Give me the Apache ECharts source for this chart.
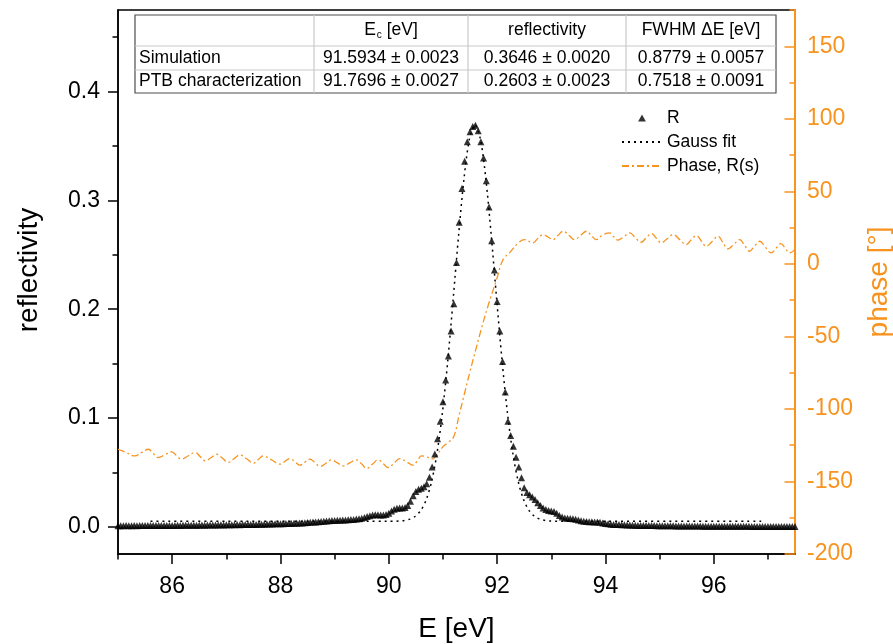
<!DOCTYPE html>
<html><head><meta charset="utf-8">
<script src="https://cdn.jsdelivr.net/npm/echarts@6/dist/echarts.min.js"></script>
<style>html,body{margin:0;padding:0;background:#fff}#c{width:893px;height:644px}</style>
</head><body><div id="c"></div>
<script>
// ---- data ----
const energyR = [
85.00,85.05,85.10,85.15,85.20,85.25,85.30,85.35,85.40,85.45,
85.50,85.55,85.60,85.65,85.70,85.75,85.80,85.85,85.90,85.95,
86.00,86.05,86.10,86.15,86.20,86.25,86.30,86.35,86.40,86.45,
86.50,86.55,86.60,86.65,86.70,86.75,86.80,86.85,86.90,86.95,
87.00,87.05,87.10,87.15,87.20,87.25,87.30,87.35,87.40,87.45,
87.50,87.55,87.60,87.65,87.70,87.75,87.80,87.85,87.90,87.95,
88.00,88.05,88.10,88.15,88.20,88.25,88.30,88.35,88.40,88.45,
88.50,88.55,88.60,88.65,88.70,88.75,88.80,88.85,88.90,88.95,
89.00,89.05,89.10,89.15,89.20,89.25,89.30,89.35,89.40,89.45,
89.50,89.55,89.60,89.65,89.70,89.75,89.80,89.85,89.90,89.95,
90.00,90.05,90.10,90.15,90.20,90.25,90.30,90.35,90.40,90.45,
90.50,90.55,90.60,90.65,90.70,90.75,90.80,90.85,90.90,90.95,
91.00,91.05,91.10,91.15,91.20,91.25,91.30,91.35,91.40,91.45,
91.50,91.55,91.60,91.65,91.70,91.75,91.80,91.85,91.90,91.95,
92.00,92.05,92.10,92.15,92.20,92.25,92.30,92.35,92.40,92.45,
92.50,92.55,92.60,92.65,92.70,92.75,92.80,92.85,92.90,92.95,
93.00,93.05,93.10,93.15,93.20,93.25,93.30,93.35,93.40,93.45,
93.50,93.55,93.60,93.65,93.70,93.75,93.80,93.85,93.90,93.95,
94.00,94.05,94.10,94.15,94.20,94.25,94.30,94.35,94.40,94.45,
94.50,94.55,94.60,94.65,94.70,94.75,94.80,94.85,94.90,94.95,
95.00,95.05,95.10,95.15,95.20,95.25,95.30,95.35,95.40,95.45,
95.50,95.55,95.60,95.65,95.70,95.75,95.80,95.85,95.90,95.95,
96.00,96.05,96.10,96.15,96.20,96.25,96.30,96.35,96.40,96.45,
96.50,96.55,96.60,96.65,96.70,96.75,96.80,96.85,96.90,96.95,
97.00,97.05,97.10,97.15,97.20,97.25,97.30,97.35,97.40,97.45,
97.50];
const reflectivityR = [
0.0010,0.0009,0.0010,0.0011,0.0010,0.0010,0.0011,0.0010,0.0011,0.0011,
0.0011,0.0012,0.0011,0.0012,0.0012,0.0012,0.0013,0.0012,0.0013,0.0013,
0.0013,0.0013,0.0014,0.0013,0.0014,0.0014,0.0015,0.0014,0.0015,0.0015,
0.0015,0.0016,0.0015,0.0016,0.0017,0.0016,0.0017,0.0017,0.0018,0.0017,
0.0018,0.0018,0.0019,0.0019,0.0020,0.0019,0.0020,0.0021,0.0020,0.0021,
0.0022,0.0022,0.0023,0.0023,0.0024,0.0025,0.0025,0.0026,0.0027,0.0027,
0.0028,0.0029,0.0030,0.0031,0.0031,0.0032,0.0033,0.0034,0.0035,0.0037,
0.0039,0.0041,0.0043,0.0045,0.0047,0.0049,0.0051,0.0053,0.0055,0.0057,
0.0059,0.0060,0.0061,0.0062,0.0063,0.0064,0.0066,0.0068,0.0071,0.0074,
0.0078,0.0085,0.0095,0.0102,0.0108,0.0110,0.0110,0.0108,0.0108,0.0112,
0.0125,0.0145,0.0162,0.0170,0.0172,0.0172,0.0178,0.0195,0.0235,0.0285,
0.0325,0.0345,0.0355,0.0368,0.0395,0.0455,0.0550,0.0670,0.0810,0.0970,
0.115,0.135,0.157,0.180,0.205,0.243,0.280,0.311,0.336,0.354,
0.363,0.368,0.369,0.364,0.354,0.339,0.318,0.294,0.263,0.236,
0.207,0.180,0.152,0.124,0.097,0.084,0.074,0.064,0.055,0.045,
0.0360,0.0315,0.0295,0.0275,0.0250,0.0220,0.0195,0.0172,0.0158,0.0150,
0.0145,0.0140,0.0125,0.0105,0.0090,0.0082,0.0078,0.0077,0.0074,0.0069,
0.0063,0.0056,0.0051,0.0048,0.0047,0.0046,0.0045,0.0044,0.0041,0.0036,
0.0031,0.0027,0.0024,0.0022,0.0021,0.0020,0.0019,0.0018,0.0017,0.0016,
0.0015,0.0014,0.0013,0.0013,0.0012,0.0012,0.0011,0.0011,0.0011,0.0010,
0.0010,0.0010,0.0009,0.0009,0.0009,0.0009,0.0008,0.0008,0.0008,0.0008,
0.0008,0.0007,0.0007,0.0007,0.0007,0.0007,0.0006,0.0006,0.0006,0.0006,
0.0006,0.0006,0.0005,0.0005,0.0005,0.0005,0.0005,0.0005,0.0004,0.0004,
0.0004,0.0004,0.0004,0.0004,0.0003,0.0003,0.0003,0.0003,0.0003,0.0003,
0.0003,0.0003,0.0002,0.0002,0.0002,0.0002,0.0002,0.0002,0.0002,0.0002,
0.0002];

const gaussE = [85.60,89.99,90.09,90.19,90.29,90.39,90.49,90.59,90.69,90.79,90.89,90.99,91.09,91.19,91.29,91.39,91.49,91.59,
  91.69,91.79,91.89,91.99,92.09,92.19,92.29,92.39,92.49,92.59,92.69,92.79,92.89,92.99,93.09,93.19,96.90];
const gaussR = [0.0050,0.0051,0.0051,0.0053,0.0058,0.0071,0.0097,0.0150,0.0248,0.0415,0.0676,0.1049,0.1533,0.2101,0.2687,0.3207,0.3567,0.3696,
  0.3567,0.3207,0.2687,0.2101,0.1533,0.1049,0.0676,0.0415,0.0248,0.0150,0.0097,0.0071,0.0058,0.0053,0.0051,0.0050,0.0050];

const phaseE = [85.00,85.15,85.31,85.44,85.56,85.65,85.74,85.87,85.99,86.08,86.17,86.30,86.42,86.52,86.61,86.72,86.82,86.93,87.03,87.14,
  87.25,87.38,87.50,87.59,87.68,87.84,87.99,88.08,88.17,88.27,88.36,88.45,88.54,88.64,88.73,88.84,88.94,89.05,89.16,89.28,
  89.40,89.50,89.59,89.70,89.80,89.90,89.99,90.10,90.20,90.33,90.45,90.53,90.60,90.70,90.79,90.90,91.00,91.10,91.20,91.30,
  91.40,91.50,91.60,91.70,91.83,91.99,92.11,92.23,92.39,92.51,92.66,92.75,92.85,92.94,93.03,93.12,93.22,93.33,93.43,93.54,
  93.65,93.74,93.83,93.95,94.08,94.15,94.23,94.34,94.45,94.55,94.66,94.75,94.85,94.94,95.03,95.14,95.25,95.37,95.49,95.58,
  95.68,95.77,95.86,95.97,96.08,96.17,96.26,96.37,96.48,96.57,96.66,96.75,96.85,96.95,97.06,97.15,97.24,97.32,97.40,97.50];
const phaseDeg = [-127.8,-130.0,-132.4,-130.0,-127.8,-130.8,-133.5,-131.5,-129.6,-132.1,-134.6,-132.3,-130.0,-132.9,-135.8,-133.5,-131.2,-134.0,-136.9,-134.3,
  -131.7,-134.5,-137.4,-134.9,-132.4,-135.2,-138.1,-136.2,-134.2,-136.5,-138.8,-136.7,-134.6,-137.1,-139.7,-137.4,-135.1,-137.2,-139.3,-137.2,
  -135.1,-138.0,-141.0,-138.0,-135.1,-137.8,-140.4,-137.3,-134.2,-136.5,-138.8,-135.6,-132.4,-133.0,-134.6,-131.0,-126.0,-123.0,-119.0,-104.0,
  -89.0,-74.0,-60.0,-46.0,-29.2,-10.8,3.0,7.6,14.5,16.7,14.5,17.5,20.2,18.5,16.7,19.5,22.5,19.5,16.7,19.6,
  22.5,19.5,16.7,20.0,21.3,18.8,16.3,18.8,21.3,18.1,14.9,17.9,20.9,17.7,14.5,17.3,20.2,16.8,13.3,16.4,
  19.5,15.8,12.1,15.5,19.0,14.6,10.3,13.5,16.7,12.7,8.7,12.1,15.6,11.6,7.6,10.8,14.0,10.8,7.6,10.0];

const xMajorTicks = [86,88,90,92,94,96];
const xMinorTicks = [85,87,89,91,93,95,97];
const yLeftMajor = [0,0.1,0.2,0.3,0.4];
const yLeftMinor = [0.05,0.15,0.25,0.35,0.45];
const yRightMajor = [-200,-150,-100,-50,0,50,100,150];
const yRightMinor = [-175,-125,-75,-25,25,75,125,175];

const tableHeader = ['', 'E|c| [eV]', 'reflectivity', 'FWHM ΔE [eV]'];
const tableRows = [
  ['Simulation', '91.5934 ± 0.0023', '0.3646 ± 0.0020', '0.8779 ± 0.0057'],
  ['PTB characterization', '91.7696 ± 0.0027', '0.2603 ± 0.0023', '0.7518 ± 0.0091']
];
const legendNames = ['R', 'Gauss fit', 'Phase, R(s)'];

// ---- styling / layout ----
const FONT = 'Liberation Sans, Arial, sans-serif';
const ORANGE = '#F7931E';
const zip = (a, b) => a.map((v, i) => [v, b[i]]);

// table geometry
const colX = [135, 314, 468, 626, 776];
const rowY = [15, 46, 70, 93];
const TFS = 17.5;
const tableEls = [];
tableEls.push({type:'rect', shape:{x:colX[0], y:rowY[0], width:colX[4]-colX[0], height:rowY[3]-rowY[0]},
  style:{fill:'#fff', stroke:'#4d4d4d', lineWidth:1.2}, z:100});
for (let i = 1; i < colX.length - 1; i++) {
  tableEls.push({type:'line', shape:{x1:colX[i], y1:rowY[0], x2:colX[i], y2:rowY[3]}, style:{stroke:'#c9c9c9', lineWidth:1.2}, z:101});
}
for (let j = 1; j < rowY.length - 1; j++) {
  tableEls.push({type:'line', shape:{x1:colX[0], y1:rowY[j], x2:colX[4], y2:rowY[j]}, style:{stroke:'#c9c9c9', lineWidth:1.2}, z:101});
}
function cellText(txt, col, row) {
  const cy = (rowY[row] + rowY[row+1]) / 2;
  const isLabel = col === 0;
  const cx = isLabel ? colX[0] + 4 : (colX[col] + colX[col+1]) / 2;
  const style = {x:cx, y:cy, text:txt, fontSize:TFS, fontFamily:FONT, fill:'#000',
    align: isLabel ? 'left' : 'center', verticalAlign:'middle'};
  if (txt.indexOf('|') >= 0) {
    const p = txt.split('|');
    style.text = '{a|' + p[0] + '}{s|' + p[1] + '}{a|' + p[2] + '}';
    style.rich = {a:{fontSize:TFS, fontFamily:FONT, fill:'#000', lineHeight:20, verticalAlign:'middle'},
                  s:{fontSize:10, fontFamily:FONT, fill:'#000', padding:[9,0,0,1], verticalAlign:'middle'}};
  }
  return {type:'text', style:style, z:102};
}
tableHeader.forEach((t, c) => { if (t) tableEls.push(cellText(t, c, 0)); });
tableRows.forEach((r, ri) => r.forEach((t, c) => tableEls.push(cellText(t, c, ri + 1))));

const chart = echarts.init(document.getElementById('c'), null, {renderer:'canvas'});
const tickStyleBlack = {color:'#000', width:1.5};
const tickStyleOrange = {color:ORANGE, width:1.5};
const hiddenSymbol = {color:'rgba(0,0,0,0)', borderWidth:0};

chart.setOption({
  animation:false,
  backgroundColor:'#fff',
  textStyle:{fontFamily:FONT},
  grid:{left:118, right:98, top:10, bottom:90, show:true, borderColor:'#000', borderWidth:1.5,
        backgroundColor:'transparent', containLabel:false, outerBoundsMode:'none'},
  legend:{
    data:[{name:legendNames[0], icon:'path://M0,0L1,1.8L-1,1.8Z'},
          {name:legendNames[1], itemStyle:hiddenSymbol},
          {name:legendNames[2], itemStyle:hiddenSymbol}],
    orient:'vertical', left:616, top:104, itemWidth:40, itemHeight:7, itemGap:6,
    symbolKeepAspect:true,
    textStyle:{fontSize:17.5, fontFamily:FONT, color:'#000'}, selectedMode:false
  },
  xAxis:[
    {type:'value', min:85, max:97.5, position:'bottom',
     axisLine:{show:true, onZero:false, lineStyle:{color:'#000', width:1.5}},
     axisTick:{show:true, customValues:xMajorTicks, length:10, lineStyle:tickStyleBlack},
     axisLabel:{customValues:xMajorTicks, fontSize:23, color:'#000', margin:21, fontFamily:FONT},
     splitLine:{show:false},
     name:'E [eV]', nameLocation:'middle', nameGap:61,
     nameTextStyle:{fontSize:28, color:'#000', fontFamily:FONT}},
    {type:'value', min:85, max:97.5, position:'bottom',
     axisLine:{show:false, onZero:false},
     axisTick:{show:true, customValues:xMinorTicks, length:5.5, lineStyle:tickStyleBlack},
     axisLabel:{show:false}, splitLine:{show:false}}
  ],
  yAxis:[
    {type:'value', min:-0.025, max:0.475, position:'left',
     axisLine:{show:true, onZero:false, lineStyle:{color:'#000', width:1.5}},
     axisTick:{show:true, customValues:yLeftMajor, length:10, lineStyle:tickStyleBlack},
     axisLabel:{customValues:yLeftMajor, formatter:v => v.toFixed(1), fontSize:23, color:'#000', margin:18, fontFamily:FONT},
     splitLine:{show:false},
     name:'reflectivity', nameLocation:'middle', nameGap:75, nameRotate:90,
     nameTextStyle:{fontSize:28, color:'#000', fontFamily:FONT, padding:[0,0,0,24]}},
    {type:'value', min:-200, max:175, position:'right',
     axisLine:{show:true, onZero:false, lineStyle:{color:ORANGE, width:2}},
     axisTick:{show:true, inside:true, customValues:yRightMajor, length:10.5, lineStyle:tickStyleOrange},
     axisLabel:{customValues:yRightMajor, fontSize:23, color:ORANGE, margin:12, fontFamily:FONT},
     splitLine:{show:false},
     name:'phase [°]', nameLocation:'middle', nameGap:70, nameRotate:90,
     nameTextStyle:{fontSize:28, color:ORANGE, fontFamily:FONT}},
    {type:'value', min:-0.025, max:0.475, position:'left',
     axisLine:{show:false, onZero:false},
     axisTick:{show:true, customValues:yLeftMinor, length:5.5, lineStyle:tickStyleBlack},
     axisLabel:{show:false}, splitLine:{show:false}},
    {type:'value', min:-200, max:175, position:'right',
     axisLine:{show:false, onZero:false},
     axisTick:{show:true, inside:true, customValues:yRightMinor, length:5.5, lineStyle:tickStyleOrange},
     axisLabel:{show:false}, splitLine:{show:false}}
  ],
  series:[
    {name:legendNames[1], type:'line', xAxisIndex:0, yAxisIndex:0, data:zip(gaussE, gaussR),
     symbol:'none', smooth:0.3, z:2,
     lineStyle:{color:'#000', width:1.5, type:[2,4]}, itemStyle:{color:'#000'}},
    {name:legendNames[2], type:'line', xAxisIndex:0, yAxisIndex:1, data:zip(phaseE, phaseDeg),
     symbol:'none', smooth:0.4, z:3,
     lineStyle:{color:ORANGE, width:1.3, type:[7,3,2,3]}, itemStyle:{color:ORANGE}},
    {name:legendNames[0], type:'scatter', xAxisIndex:0, yAxisIndex:0, data:zip(energyR, reflectivityR),
     symbol:'triangle', symbolSize:7, z:4, itemStyle:{color:'#000'}}
  ],
  graphic:[{type:'group', children:tableEls}]
});
</script>
</body></html>
